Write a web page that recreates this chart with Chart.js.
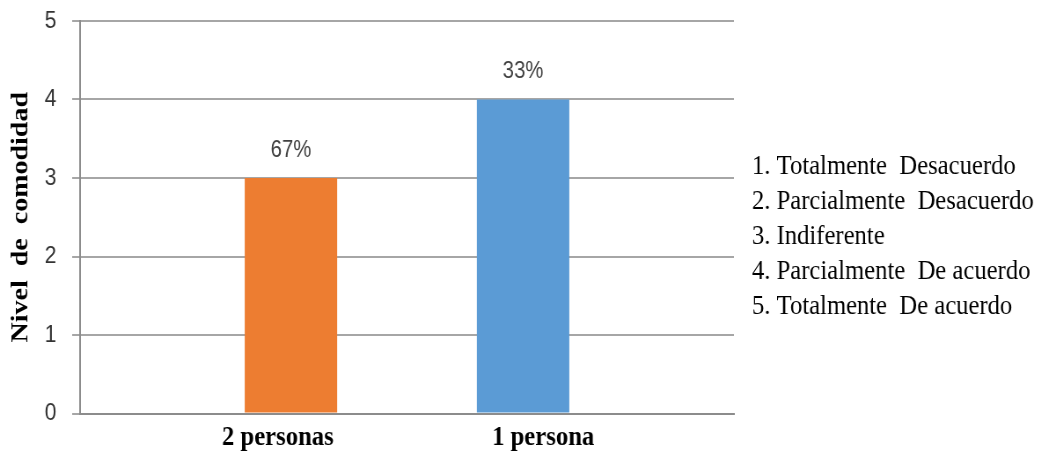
<!DOCTYPE html>
<html>
<head>
<meta charset="utf-8">
<script src="https://cdn.jsdelivr.net/npm/chart.js@4/dist/chart.umd.min.js"></script>
<style>
  html, body { margin: 0; padding: 0; background: #ffffff; overflow: hidden; }
  #wrap { width: 1043px; height: 453px; overflow: hidden; }
  /* the drawing is laid out wide, then condensed horizontally */
  #chart { display: block; width: 1185px; height: 453px; transform: scaleX(0.88); transform-origin: 0 0; }
</style>
</head>
<body>
<div id="wrap"><canvas id="chart" width="1185" height="453"></canvas></div>
<script>
// categories on the x axis
const categories = ['2 personas', '1 persona'];

// comfort level per group (each series fills one slot of the pair)
const comfortTwoPeople = [3, null];
const comfortOnePerson = [null, 4];

// share of respondents printed above each bar
const shareTwoPeople = ['67%', null];
const shareOnePerson = [null, '33%'];

// y axis range and step
const yTicks = [0, 1, 2, 3, 4, 5];

// scale key printed at the right
const scaleKey = [
  '1. Totalmente  Desacuerdo',
  '2. Parcialmente  Desacuerdo',
  '3. Indiferente',
  '4. Parcialmente  De acuerdo',
  '5. Totalmente  De acuerdo'
];

const yTitle = 'Nivel  de  comodidad';

const SERIF = '"Liberation Serif", "Times New Roman", "DejaVu Serif", serif';
const SANS = '"Liberation Sans", Arial, "DejaVu Sans", sans-serif';

// value labels above the bars
const shareLabels = {
  id: 'shareLabels',
  afterDatasetsDraw(chart) {
    const ctx = chart.ctx;
    ctx.save();
    ctx.font = '23px ' + SANS;
    ctx.fillStyle = '#404040';
    ctx.textAlign = 'center';
    ctx.textBaseline = 'alphabetic';
    chart.data.datasets.forEach((ds, di) => {
      const meta = chart.getDatasetMeta(di);
      meta.data.forEach((bar, i) => {
        const txt = ds.shares[i];
        if (txt == null || ds.data[i] == null) return;
        ctx.fillText(txt, bar.x, bar.y - 21.5);
      });
    });
    ctx.restore();
  }
};

// category names under the axis, pulled toward the bars
const categoryNames = {
  id: 'categoryNames',
  afterDraw(chart) {
    const ctx = chart.ctx;
    const xs = chart.scales.x;
    const shift = [39, -31];
    ctx.save();
    ctx.font = 'bold 28px ' + SERIF;
    ctx.fillStyle = '#000000';
    ctx.textAlign = 'center';
    ctx.textBaseline = 'alphabetic';
    categories.forEach((name, i) => {
      ctx.fillText(name, xs.getPixelForValue(i) + shift[i], 445);
    });
    ctx.restore();
  }
};

// rating scale key to the right of the plot
const scaleKeyText = {
  id: 'scaleKeyText',
  afterDraw(chart) {
    const ctx = chart.ctx;
    ctx.save();
    ctx.font = '28px ' + SERIF;
    ctx.fillStyle = '#000000';
    ctx.textAlign = 'left';
    ctx.textBaseline = 'alphabetic';
    const x0 = chart.chartArea.right + 20.5;
    scaleKey.forEach((line, i) => {
      ctx.fillText(line, x0, 174 + i * 35);
    });
    ctx.restore();
  }
};

new Chart(document.getElementById('chart'), {
  type: 'bar',
  data: {
    labels: categories,
    datasets: [
      {
        label: '1 persona',
        data: comfortOnePerson,
        shares: shareOnePerson,
        backgroundColor: '#5b9bd5',
        borderWidth: 0
      },
      {
        label: '2 personas',
        data: comfortTwoPeople,
        shares: shareTwoPeople,
        backgroundColor: '#ed7d31',
        borderWidth: 0
      }
    ]
  },
  options: {
    responsive: false,
    devicePixelRatio: 1,
    animation: false,
    categoryPercentage: 0.58,
    barPercentage: 0.975,
    layout: { padding: { top: 21, right: 351, bottom: 0, left: 0 } },
    plugins: {
      legend: { display: false },
      tooltip: { enabled: false },
      title: { display: false }
    },
    scales: {
      x: {
        grid: { display: false },
        border: { display: true, color: '#8c8c8c', width: 2 },
        ticks: { display: false },
        afterFit(scale) {
          scale.height = 39.5;
          scale.paddingLeft = 0;
          scale.paddingRight = 0;
        }
      },
      y: {
        min: yTicks[0],
        max: yTicks[yTicks.length - 1],
        afterBuildTicks(scale) { scale.ticks = yTicks.map(v => ({ value: v })); },
        grid: { color: '#a6a6a6', lineWidth: 2, tickLength: 9, drawTicks: true },
        border: { display: true, color: '#8c8c8c', width: 2 },
        ticks: {
          stepSize: 1,
          padding: 18,
          color: '#333333',
          font: { family: SANS, size: 24 }
        },
        title: {
          display: true,
          text: yTitle,
          color: '#000000',
          padding: { top: 7, bottom: 0 },
          font: { family: SERIF, size: 28, weight: 'bold' }
        },
        afterFit(scale) {
          scale.width = 91;
          scale.paddingTop = 0;
          scale.paddingBottom = 0;
        }
      }
    }
  },
  plugins: [shareLabels, categoryNames, scaleKeyText]
});
</script>
</body>
</html>
